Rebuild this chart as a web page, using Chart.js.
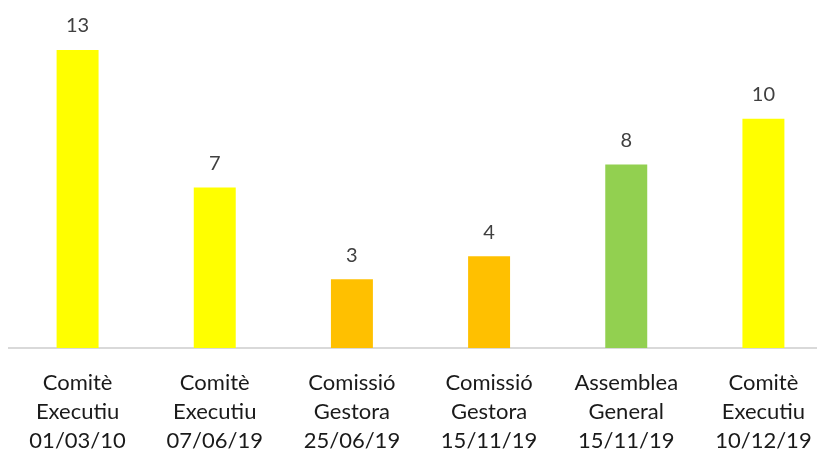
<!DOCTYPE html>
<html>
<head>
<meta charset="utf-8">
<script src="https://cdn.jsdelivr.net/npm/chart.js@4/dist/chart.umd.min.js"></script>
<style>
  html, body { margin: 0; padding: 0; background: #fff; overflow: hidden; }
  #wrap { width: 832px; height: 451px; }
</style>
</head>
<body>
<div id="wrap"><canvas id="chart" width="832" height="451"></canvas></div>
<script>
// Chart data
const categories = [
  ["Comitè", "Executiu", "01/03/10"],
  ["Comitè", "Executiu", "07/06/19"],
  ["Comissió", "Gestora", "25/06/19"],
  ["Comissió", "Gestora", "15/11/19"],
  ["Assemblea", "General", "15/11/19"],
  ["Comitè", "Executiu", "10/12/19"]
];
const values = [13, 7, 3, 4, 8, 10];
const barColors = ["#FFFF00", "#FFFF00", "#FFC000", "#FFC000", "#92D050", "#FFFF00"];

const FONT = "Lato, 'Open Sans', sans-serif";

// Value labels above each bar
const valueLabels = {
  id: "valueLabels",
  afterDatasetsDraw(chart) {
    const ctx = chart.ctx;
    const meta = chart.getDatasetMeta(0);
    ctx.save();
    ctx.fillStyle = "#404040";
    ctx.font = "20px " + FONT;
    ctx.textAlign = "center";
    ctx.textBaseline = "middle";
    meta.data.forEach((bar, i) => {
      ctx.fillText(String(values[i]), bar.x, bar.y - 24);
    });
    ctx.restore();
  }
};

new Chart(document.getElementById("chart").getContext("2d"), {
  type: "bar",
  data: {
    labels: categories,
    datasets: [
      {
        data: values,
        backgroundColor: barColors,
        borderWidth: 0,
        barPercentage: 0.306,
        categoryPercentage: 1
      }
    ]
  },
  options: {
    responsive: false,
    animation: false,
    layout: { padding: { left: 9, right: 0, top: 50, bottom: 0 } },
    plugins: {
      legend: { display: false },
      tooltip: { enabled: false }
    },
    scales: {
      x: {
        grid: { display: false },
        border: { display: true, color: "#d9d9d9", width: 2 },
        ticks: {
          color: "#1a1a1a",
          font: { family: FONT, size: 22, lineHeight: 1.33 },
          padding: 12,
          maxRotation: 0,
          autoSkip: false
        },
        afterFit: (scale) => {
          scale.height = 103;
        }
      },
      y: {
        display: false,
        min: 0,
        max: 13
      }
    }
  },
  plugins: [valueLabels]
});
</script>
</body>
</html>
